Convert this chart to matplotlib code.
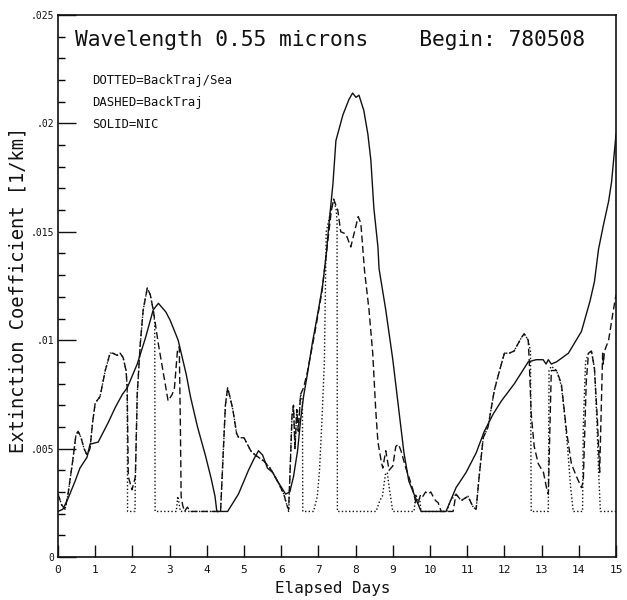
#!/usr/bin/env python3
"""Extinction coefficient vs elapsed days, three retrievals (0.55 micron)."""

import matplotlib

matplotlib.use("Agg")
import matplotlib.pyplot as plt
from matplotlib.ticker import MultipleLocator

# values (days, 1/km)
solid_days = [0.00, 0.13, 0.27, 0.46, 0.59, 0.78, 0.86, 1.08, 1.35, 1.54, 1.73, 1.86, 2.13, 2.35,
              2.56, 2.70, 2.80, 2.90, 3.02, 3.23, 3.45, 3.56, 3.75, 3.96, 4.12, 4.22, 4.27, 4.56,
              4.85, 5.12, 5.26, 5.39, 5.50, 5.63, 5.77, 5.90, 6.01, 6.12, 6.23, 6.33, 6.44, 6.52,
              6.60, 6.70, 6.84, 6.98, 7.11, 7.22, 7.28, 7.39, 7.47, 7.66, 7.82, 7.92, 8.01, 8.09,
              8.22, 8.33, 8.41, 8.49, 8.60, 8.63, 8.81, 9.00, 9.16, 9.30, 9.43, 9.57, 9.76, 10.43,
              10.70, 10.97, 11.24, 11.46, 11.70, 11.92, 12.27, 12.64, 12.85, 13.04, 13.12, 13.18,
              13.26, 13.40, 13.72, 14.07, 14.30, 14.42, 14.53, 14.66, 14.80, 14.88, 15.00]
solid_vals = [0.0021, 0.0022, 0.0027, 0.0035, 0.0041, 0.0046, 0.0052, 0.0053, 0.0062, 0.0069,
              0.0075, 0.0078, 0.0089, 0.0101, 0.0114, 0.0117, 0.0115, 0.0113, 0.0109, 0.0100,
              0.0084, 0.0074, 0.0060, 0.0047, 0.0036, 0.0028, 0.0021, 0.0021, 0.0029, 0.0040,
              0.0045, 0.0049, 0.0047, 0.0041, 0.0039, 0.0035, 0.0032, 0.0029, 0.0030, 0.0037,
              0.0049, 0.0063, 0.0074, 0.0084, 0.0099, 0.0112, 0.0125, 0.0141, 0.0153, 0.0172,
              0.0192, 0.0204, 0.0211, 0.0214, 0.0212, 0.0213, 0.0206, 0.0195, 0.0183, 0.0161,
              0.0143, 0.0133, 0.0114, 0.0091, 0.0068, 0.0048, 0.0035, 0.0029, 0.0021, 0.0021,
              0.0032, 0.0039, 0.0048, 0.0058, 0.0066, 0.0072, 0.0080, 0.0090, 0.0091, 0.0091,
              0.0089, 0.0091, 0.0089, 0.0090, 0.0094, 0.0104, 0.0118, 0.0127, 0.0142, 0.0153,
              0.0164, 0.0173, 0.0195]

dashed_days = [0.00, 0.10, 0.19, 0.27, 0.40, 0.48, 0.54, 0.62, 0.70, 0.78, 0.86, 0.93, 1.00, 1.13,
               1.27, 1.40, 1.48, 1.59, 1.67, 1.75, 1.83, 1.86, 1.89, 1.99, 2.08, 2.13, 2.21, 2.29,
               2.40, 2.48, 2.56, 2.70, 2.83, 2.96, 3.07, 3.13, 3.21, 3.26, 3.29, 3.31, 3.35, 3.40,
               3.48, 3.55, 4.37, 4.42, 4.50, 4.56, 4.62, 4.70, 4.80, 4.86, 5.00, 5.18, 5.30, 5.39,
               5.55, 5.70, 5.77, 5.93, 6.07, 6.15, 6.20, 6.25, 6.29, 6.33, 6.37, 6.42, 6.46, 6.52,
               6.60, 6.70, 6.80, 6.90, 7.00, 7.10, 7.20, 7.28, 7.35, 7.41, 7.52, 7.60, 7.74, 7.87,
               8.00, 8.07, 8.14, 8.19, 8.24, 8.36, 8.46, 8.54, 8.60, 8.68, 8.73, 8.81, 8.90, 9.00,
               9.08, 9.15, 9.22, 9.35, 9.45, 9.54, 9.62, 9.68, 9.75, 9.81, 9.88, 9.95, 10.02, 10.08,
               10.15, 10.22, 10.30, 10.62, 10.70, 10.84, 11.02, 11.16, 11.24, 11.32, 11.43, 11.56,
               11.73, 11.87, 12.00, 12.13, 12.26, 12.45, 12.53, 12.64, 12.67, 12.72, 12.80, 12.91,
               13.05, 13.13, 13.18, 13.26, 13.40, 13.53, 13.67, 13.80, 13.94, 14.07, 14.12, 14.20,
               14.26, 14.34, 14.42, 14.50, 14.56, 14.64, 14.66, 14.69, 14.80, 14.93, 15.00]
dashed_vals = [0.0029, 0.0024, 0.0022, 0.0029, 0.0045, 0.0056, 0.0058, 0.0055, 0.0050, 0.0047,
               0.0050, 0.0062, 0.0071, 0.0074, 0.0086, 0.0094, 0.0094, 0.0093, 0.0094, 0.0092,
               0.0086, 0.0078, 0.0037, 0.0031, 0.0037, 0.0075, 0.0098, 0.0114, 0.0124, 0.0121,
               0.0114, 0.0098, 0.0085, 0.0072, 0.0075, 0.0078, 0.0095, 0.0097, 0.0060, 0.0028,
               0.0024, 0.0021, 0.0023, 0.0021, 0.0021, 0.0040, 0.0070, 0.0078, 0.0074, 0.0068,
               0.0057, 0.0055, 0.0055, 0.0049, 0.0047, 0.0046, 0.0044, 0.0041, 0.0039, 0.0034,
               0.0029, 0.0024, 0.0022, 0.0045, 0.0065, 0.0070, 0.0050, 0.0068, 0.0058, 0.0075,
               0.0078, 0.0085, 0.0094, 0.0103, 0.0113, 0.0123, 0.0138, 0.0150, 0.0160, 0.0165,
               0.0160, 0.0150, 0.0149, 0.0143, 0.0152, 0.0157, 0.0154, 0.0143, 0.0132, 0.0114,
               0.0094, 0.0068, 0.0053, 0.0045, 0.0041, 0.0049, 0.0040, 0.0042, 0.0051, 0.0052,
               0.0049, 0.0041, 0.0036, 0.0031, 0.0025, 0.0025, 0.0029, 0.0028, 0.0030, 0.0029,
               0.0030, 0.0028, 0.0026, 0.0025, 0.0021, 0.0021, 0.0029, 0.0026, 0.0028, 0.0023,
               0.0022, 0.0037, 0.0055, 0.0060, 0.0077, 0.0086, 0.0094, 0.0094, 0.0095, 0.0101,
               0.0103, 0.0100, 0.0089, 0.0066, 0.0051, 0.0043, 0.0039, 0.0032, 0.0029, 0.0086,
               0.0086, 0.0080, 0.0058, 0.0043, 0.0037, 0.0032, 0.0035, 0.0081, 0.0094, 0.0095,
               0.0087, 0.0063, 0.0039, 0.0094, 0.0089, 0.0095, 0.0100, 0.0114, 0.0121]

dotted_days = [0.00, 0.10, 0.19, 0.27, 0.40, 0.48, 0.54, 0.62, 0.70, 0.78, 0.86, 0.93, 1.00, 1.13,
               1.27, 1.40, 1.48, 1.59, 1.67, 1.75, 1.83, 1.86, 1.87, 2.07, 2.08, 2.13, 2.21, 2.29,
               2.40, 2.48, 2.56, 2.60, 2.61, 3.18, 3.22, 3.26, 3.29, 4.37, 4.42, 4.50, 4.56, 4.62,
               4.70, 4.80, 4.86, 5.00, 5.18, 5.30, 5.39, 5.55, 5.70, 5.77, 5.93, 6.07, 6.15, 6.20,
               6.25, 6.29, 6.33, 6.37, 6.42, 6.46, 6.52, 6.57, 6.58, 6.87, 6.97, 7.03, 7.10, 7.16,
               7.19, 7.21, 7.30, 7.41, 7.48, 7.50, 7.51, 8.55, 8.65, 8.72, 8.80, 8.85, 8.92, 9.00,
               9.57, 9.62, 9.68, 9.72, 9.76, 10.45, 10.55, 10.70, 10.84, 11.02, 11.16, 11.24, 11.32,
               11.43, 11.56, 11.73, 11.87, 12.00, 12.13, 12.26, 12.45, 12.53, 12.64, 12.70, 12.72,
               13.18, 13.20, 13.26, 13.40, 13.53, 13.62, 13.70, 13.78, 13.85, 14.10, 14.12, 14.18,
               14.26, 14.34, 14.42, 14.48, 14.53, 14.58, 15.00]
dotted_vals = [0.0029, 0.0024, 0.0022, 0.0029, 0.0045, 0.0056, 0.0058, 0.0055, 0.0050, 0.0047,
               0.0050, 0.0062, 0.0071, 0.0074, 0.0086, 0.0094, 0.0094, 0.0093, 0.0094, 0.0092,
               0.0086, 0.0078, 0.0021, 0.0021, 0.0037, 0.0075, 0.0098, 0.0114, 0.0124, 0.0121,
               0.0114, 0.0108, 0.0021, 0.0021, 0.0028, 0.0024, 0.0021, 0.0021, 0.0040, 0.0070,
               0.0078, 0.0074, 0.0068, 0.0057, 0.0055, 0.0055, 0.0049, 0.0047, 0.0046, 0.0044,
               0.0041, 0.0039, 0.0034, 0.0029, 0.0024, 0.0021, 0.0045, 0.0065, 0.0070, 0.0050,
               0.0068, 0.0058, 0.0075, 0.0072, 0.0021, 0.0021, 0.0028, 0.0040, 0.0065, 0.0090,
               0.0125, 0.0150, 0.0157, 0.0165, 0.0160, 0.0155, 0.0021, 0.0021, 0.0026, 0.0028,
               0.0038, 0.0039, 0.0030, 0.0021, 0.0021, 0.0029, 0.0025, 0.0027, 0.0021, 0.0021,
               0.0026, 0.0029, 0.0026, 0.0028, 0.0023, 0.0022, 0.0037, 0.0055, 0.0060, 0.0077,
               0.0086, 0.0094, 0.0094, 0.0095, 0.0101, 0.0103, 0.0100, 0.0095, 0.0021, 0.0021,
               0.0086, 0.0088, 0.0086, 0.0079, 0.0065, 0.0050, 0.0032, 0.0021, 0.0021, 0.0060,
               0.0090, 0.0094, 0.0095, 0.0087, 0.0065, 0.0040, 0.0021, 0.0021]

x_ticks = list(range(0, 16))
y_ticks = [0, 0.005, 0.01, 0.015, 0.02, 0.025]
y_tick_labels = ["0", ".005", ".01", ".015", ".02", ".025"]

title_text = "Wavelength 0.55 microns    Begin: 780508"
legend_lines = ["DOTTED=BackTraj/Sea", "DASHED=BackTraj", "SOLID=NIC"]

MONO = "DejaVu Sans Mono"
INK = "#111111"


def main() -> None:
    plt.rcParams["font.family"] = MONO
    fig = plt.figure(figsize=(6.27, 6.0), dpi=100)
    ax = fig.add_axes([0.0925, 0.0717, 0.89, 0.9033])

    ax.plot(dotted_days, dotted_vals, color=INK, linewidth=1.0, linestyle=(0, (1, 1.6)))
    ax.plot(dashed_days, dashed_vals, color=INK, linewidth=1.0, linestyle=(0, (5, 2.5)))
    ax.plot(solid_days, solid_vals, color=INK, linewidth=1.0)

    ax.set_xlim(0, 15)
    ax.set_ylim(0, 0.025)
    ax.set_xticks(x_ticks)
    ax.set_xticklabels([str(t) for t in x_ticks], fontsize=8)
    ax.set_yticks(y_ticks)
    ax.set_yticklabels(y_tick_labels, fontsize=7)
    ax.yaxis.set_minor_locator(MultipleLocator(0.001))
    ax.tick_params(axis="x", direction="in", length=8.5, width=1.0, pad=6, colors=INK)
    ax.tick_params(axis="y", which="major", direction="in", length=13, width=1.0, pad=3,
                   colors=INK)
    ax.tick_params(axis="y", which="minor", direction="in", length=5, width=1.0)
    for spine in ax.spines.values():
        spine.set_linewidth(1.2)
        spine.set_color(INK)

    ax.text(0.0305, 0.943, title_text, transform=ax.transAxes, fontsize=15.3,
            ha="left", va="baseline", color=INK)
    for i, line in enumerate(legend_lines):
        ax.text(0.061, 0.873 - i * 0.041, line, transform=ax.transAxes, fontsize=8.8,
                ha="left", va="baseline", color=INK)

    fig.text(333 / 627, 1 - 588 / 600, "Elapsed Days", fontsize=11.5, ha="center",
             va="center", color=INK)
    fig.text(18 / 627, 1 - 290 / 600, "Extinction Coefficient [1/km]", fontsize=13.5,
             rotation=90, ha="center", va="center", color=INK)

    fig.savefig("out.png", dpi=100)


if __name__ == "__main__":
    main()
